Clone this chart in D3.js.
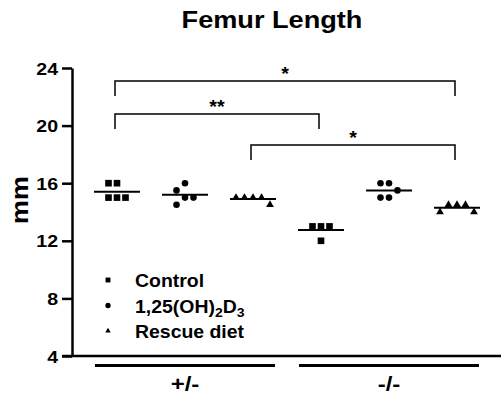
<!DOCTYPE html>
<html>
<head>
<meta charset="utf-8">
<script src="https://cdn.jsdelivr.net/npm/d3@7"></script>
<style>
  body { margin: 0; background: #fff; }
  svg text { font-family: "Liberation Sans", Arial, sans-serif; font-weight: bold; fill: #000; }
</style>
</head>
<body>
<div id="chart"></div>
<script>
// data (femur length, mm)
var genotypes = ["+/-", "-/-"];
var treatments = ["Control", "1,25(OH)2D3", "Rescue diet"];
var ctrlHet   = [16, 16, 15, 15, 15];
var vitDHet   = [16, 15.5, 15, 15, 14.5];
var rescueHet = [15, 15, 15, 15, 14.5];
var ctrlKO    = [13, 13, 13, 12];
var vitDKO    = [16, 16, 15.5, 15, 15];
var rescueKO  = [14.5, 14.5, 14.5, 14, 14];
var yTicks = [4, 8, 12, 16, 20, 24];

// significance brackets: from column, to column, height (mm), label
var bracketFrom  = [0, 0, 2];
var bracketTo    = [5, 3, 5];
var bracketLevel = [23.1, 20.8, 18.65];
var bracketLabel = ["*", "**", "*"];

var columns = [
	{ geno: 0, treat: 0, values: ctrlHet },
	{ geno: 0, treat: 1, values: vitDHet },
	{ geno: 0, treat: 2, values: rescueHet },
	{ geno: 1, treat: 0, values: ctrlKO },
	{ geno: 1, treat: 1, values: vitDKO },
	{ geno: 1, treat: 2, values: rescueKO }
];

var width = 501, height = 395;

var svg = d3.select("#chart").append("svg")
	.attr("width", width)
	.attr("height", height);

//the original figure's lettering is a bit wider than Arial
function addText(parent, px, py, size, stretch) {
	return parent.append("text")
		.attr("transform", "translate(" + px + "," + py + ") scale(" + stretch + ",1)")
		.attr("font-size", size);
}

//scales
var x = d3.scaleLinear()
	.domain([0, 5])
	.range([117, 457]);

var y = d3.scaleLinear()
	.domain([4, 24])
	.range([356, 68]);

var symbols = [d3.symbolSquare, d3.symbolCircle, d3.symbolTriangle];
var symbolSize = [44, 34, 26];
var legendSize = [24, 22, 13];

//title
addText(svg, 272, 28, 23, 1.18)
	.attr("text-anchor", "middle")
	.text("Femur Length");

//y label
svg.append("text")
	.attr("transform", "translate(28, 200) rotate(-90) scale(1.12,1)")
	.attr("text-anchor", "middle")
	.attr("font-size", 24)
	.text("mm");

//y axis
var yAxis = svg.append("g")
	.attr("transform", "translate(72, 0)")
	.call(d3.axisLeft(y).tickValues(yTicks).tickSize(10).tickPadding(3).tickSizeOuter(0));
yAxis.select(".domain").attr("stroke-width", 2.5);
yAxis.selectAll(".tick line").attr("stroke-width", 2.5);
yAxis.selectAll(".tick text")
	.attr("font-size", 17)
	.attr("dy", "0.36em")
	.attr("x", 0)
	.attr("transform", "translate(-14,0) scale(1.15,1)");

//x axis line
svg.append("line")
	.attr("x1", 62).attr("x2", width)
	.attr("y1", y(4)).attr("y2", y(4))
	.attr("stroke", "#000").attr("stroke-width", 2.5);

//genotype bars under the axis
genotypes.forEach(function(g, i){
	var x0 = x(i * 3) - 22, x1 = x(i * 3 + 2) + 22;
	svg.append("line")
		.attr("x1", x0).attr("x2", x1)
		.attr("y1", 365.5).attr("y2", 365.5)
		.attr("stroke", "#000").attr("stroke-width", 3);
	addText(svg, (x0 + x1) / 2, 391, 20, 1.2)
		.attr("text-anchor", "middle")
		.text(g);
});

//spread points that would overlap into side slots
function layout(values) {
	var placed = [];
	var order = [0, -1, 1, -2, 2, -3, 3];
	values.slice().sort(d3.descending).forEach(function(v){
		for (var k = 0; k < order.length; k++) {
			var s = order[k];
			var hit = placed.some(function(p){
				return p.slot == s && Math.abs(y(p.v) - y(v)) < 8;
			});
			if (!hit) { placed.push({ v: v, slot: s }); break; }
		}
	});
	return placed;
}

columns.forEach(function(col, i){
	var cx = x(i);
	var mean = d3.mean(col.values);

	svg.append("line")
		.attr("x1", cx - 23).attr("x2", cx + 23)
		.attr("y1", y(mean)).attr("y2", y(mean))
		.attr("stroke", "#000").attr("stroke-width", 2);

	svg.selectAll(null)
		.data(layout(col.values))
		.enter()
		.append("path")
			.attr("d", d3.symbol().type(symbols[col.treat]).size(symbolSize[col.treat]))
			.attr("transform", function(d){
				return "translate(" + (cx + d.slot * 8.5) + ", " + y(d.v) + ")";
			})
			.attr("fill", "#000");
});

//brackets
bracketLabel.forEach(function(lab, i){
	var x0 = x(bracketFrom[i]) - 2, x1 = x(bracketTo[i]) - 2;
	var yy = y(bracketLevel[i]);
	svg.append("path")
		.attr("d", "M" + x0 + "," + (yy + 15) + "V" + yy + "H" + x1 + "V" + (yy + 15))
		.attr("fill", "none")
		.attr("stroke", "#000")
		.attr("stroke-width", 1.5);
	addText(svg, (x0 + x1) / 2, yy - 1, 18, 1.1)
		.attr("text-anchor", "middle")
		.text(lab);
});

//legend
var legend = svg.append("g")
	.attr("transform", "translate(108, 280)");

treatments.forEach(function(t, i){
	var row = legend.append("g")
		.attr("transform", "translate(0, " + (i * 25.5) + ")");
	row.append("path")
		.attr("d", d3.symbol().type(symbols[i]).size(legendSize[i]))
		.attr("fill", "#000");
	var label = addText(row, 27, 7, 18, 1.08);
	if (t == "1,25(OH)2D3") {
		label.append("tspan").text("1,25(OH)");
		label.append("tspan").attr("font-size", 13).attr("dy", 4).text("2");
		label.append("tspan").attr("dy", -4).text("D");
		label.append("tspan").attr("font-size", 13).attr("dy", 4).text("3");
	} else {
		label.text(t);
	}
});
</script>
</body>
</html>
